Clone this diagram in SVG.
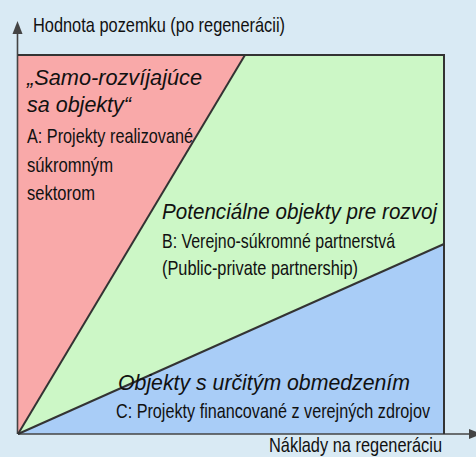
<svg xmlns="http://www.w3.org/2000/svg" width="476" height="457" viewBox="0 0 476 457">
<style>
.t{font-family:"Liberation Sans",Arial,sans-serif;fill:#111;font-size:21px}
.i{font-style:italic;font-size:22px}
.ln{stroke:#333;stroke-width:2;fill:none}
.ax{stroke:#444;stroke-width:1.6;fill:none}
</style>
<rect width="476" height="457" fill="#d9eaf4"/>
<g id="regions">
<polygon id="regionA" points="18,55 245,55 18,434" fill="#f9a9a9"/>
<polygon id="regionB" points="245,55 444,55 444,244 18,434" fill="#ccf7c6"/>
<polygon id="regionC" points="444,244 444,434 18,434" fill="#a9cdf7"/>
</g>
<g id="connectors">
<line class="ax" x1="17.5" y1="434" x2="17.5" y2="32"/>
<polygon points="17.5,21 12.5,34 22.5,34" fill="#444"/>
<line class="ax" x1="18" y1="434" x2="470" y2="434"/>
<polygon points="482,434 469,429 469,439" fill="#444"/>
<polyline class="ln" points="18,55 444,55 444,434"/>
<line class="ln" x1="18" y1="434" x2="245" y2="55"/>
<line class="ln" x1="18" y1="434" x2="444" y2="244"/>
</g>
<g id="axis-labels">
<text class="t" x="33" y="32" font-size="22" textLength="252" lengthAdjust="spacingAndGlyphs">Hodnota pozemku (po regenerácii)</text>
<text class="t" x="269" y="452" font-size="21" textLength="173" lengthAdjust="spacingAndGlyphs">Náklady na regeneráciu</text>
</g>
<g id="nodeA">
<text class="t i" x="27" y="85" textLength="175" lengthAdjust="spacingAndGlyphs">„Samo-rozvíjajúce</text>
<text class="t i" x="27" y="112" textLength="104" lengthAdjust="spacingAndGlyphs">sa objekty“</text>
<text class="t" x="27" y="143" textLength="166" lengthAdjust="spacingAndGlyphs">A: Projekty realizované</text>
<text class="t" x="27" y="172" textLength="86" lengthAdjust="spacingAndGlyphs">súkromným</text>
<text class="t" x="27" y="200" textLength="68" lengthAdjust="spacingAndGlyphs">sektorom</text>
</g>
<g id="nodeB">
<text class="t i" x="162" y="219" font-size="21" textLength="275" lengthAdjust="spacingAndGlyphs">Potenciálne objekty pre rozvoj</text>
<text class="t" x="162" y="248" textLength="233" lengthAdjust="spacingAndGlyphs">B: Verejno-súkromné partnerstvá</text>
<text class="t" x="162" y="275" textLength="196" lengthAdjust="spacingAndGlyphs">(Public-private partnership)</text>
</g>
<g id="nodeC">
<text class="t i" x="118" y="390" font-size="21" textLength="292" lengthAdjust="spacingAndGlyphs">Objekty s určitým obmedzením</text>
<text class="t" x="116" y="418" textLength="314" lengthAdjust="spacingAndGlyphs">C: Projekty financované z verejných zdrojov</text>
</g>
</svg>
